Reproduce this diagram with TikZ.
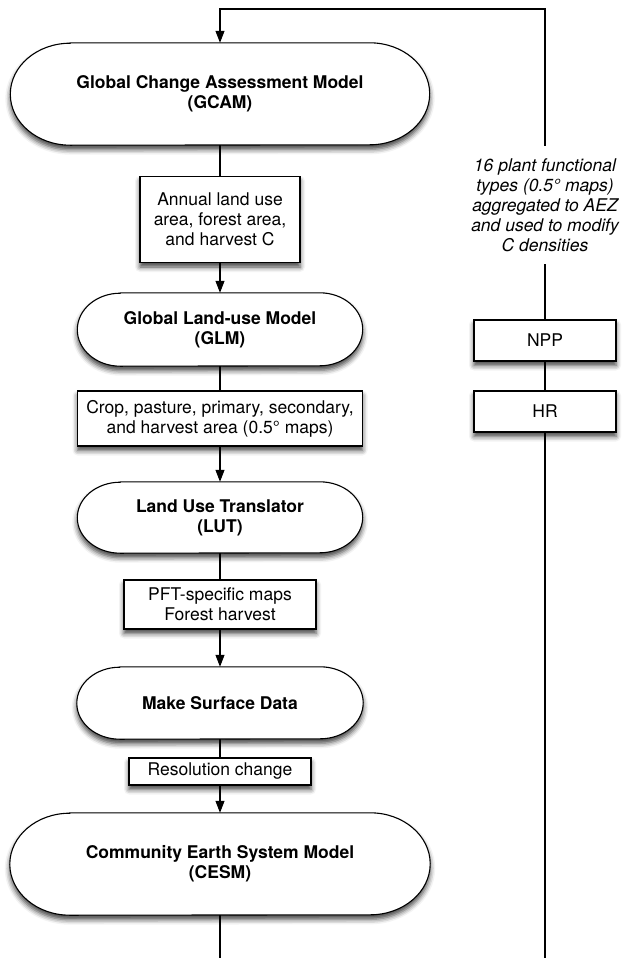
\documentclass[tikz,border=0pt]{standalone}
\usepackage{fontspec}
\setmainfont{TeX Gyre Heros}
\usetikzlibrary{arrows.meta,calc,backgrounds,shadows.blur}
\newcommand\pillpath[3]{%
  \path[pillshape] ($(#1.north west)+(#2,0)$) -- ($(#1.north east)+(-#2,0)$)
    arc[start angle=90,end angle=-90,x radius=#2bp,y radius=#3bp]
    -- ($(#1.south west)+(#2,0)$)
    arc[start angle=270,end angle=90,x radius=#2bp,y radius=#3bp] -- cycle;}
\begin{document}
\begin{tikzpicture}[x=1bp,y=1bp,
  every node/.style={font=\fontsize{17.5bp}{20bp}\selectfont, inner sep=0pt, align=center},
  shadowed/.style={blur shadow={shadow xshift=0bp, shadow yshift=-4.5bp, shadow blur radius=5bp, shadow opacity=75}},
  databox/.style={draw, fill=white, line width=1.1bp, shadowed},
  pilltext/.style={font=\fontsize{17.5bp}{20bp}\selectfont\bfseries},
  pillshape/.style={draw, fill=white, line width=1.1bp, shadowed},
  conn/.style={line width=1.1bp},
  arr/.style={conn, -{Triangle[length=12bp,width=9bp]}},
]
\useasboundingbox (0,0) rectangle (622,-958);

% left column
\node[pilltext, minimum width=419bp, minimum height=102bp] (gcam) at (220,-94) {Global Change Assessment Model\\(GCAM)};
\node[databox, minimum width=160bp, minimum height=86bp] (annual) at (220,-219.5) {Annual land use\\area, forest area,\\and harvest C};
\node[pilltext, minimum width=285bp, minimum height=73bp] (glm) at (220,-329.5) {Global Land-use Model\\(GLM)};
\node[databox, minimum width=285bp, minimum height=55bp] (crop) at (220,-418.5) {Crop, pasture, primary, secondary,\\and harvest area (0.5° maps)};
\node[pilltext, minimum width=285bp, minimum height=71bp] (lut) at (220,-517.5) {Land Use Translator\\(LUT)};
\node[databox, minimum width=192bp, minimum height=49bp] (pft) at (220,-604.5) {PFT-specific maps\\Forest harvest};
\node[pilltext, minimum width=286bp, minimum height=72bp] (msd) at (220,-703) {Make Surface Data};
\node[databox, minimum width=182bp, minimum height=27bp] (res) at (220,-771.5) {Resolution change};
\node[pilltext, minimum width=420bp, minimum height=102bp] (cesm) at (220,-864) {Community Earth System Model\\(CESM)};

% right column
\node[font=\fontsize{17.5bp}{20bp}\selectfont\itshape, minimum height=118bp] (pfts) at (545,-205) {16 plant functional\\types (0.5° maps)\\aggregated to AEZ\\and used to modify\\C densities};
\node[databox, minimum width=142bp, minimum height=41bp] (npp) at (545,-340.5) {NPP};
\node[databox, minimum width=142bp, minimum height=41bp] (hr) at (545,-411.5) {HR};

\coordinate (top) at (545,-9);
\coordinate (lbot) at (220,-958);
\coordinate (rbot) at (545,-958);

\begin{scope}[on background layer]
  \pillpath{gcam}{60}{51}
  \pillpath{glm}{43}{36.5}
  \pillpath{lut}{43}{35.5}
  \pillpath{msd}{43}{36}
  \pillpath{cesm}{60}{51}
\end{scope}

\draw[arr] (pfts.north) -- (top) -| (gcam.north);
\draw[conn] (pfts.south) -- (npp.north);
\draw[conn] (npp.south) -- (hr.north);
\draw[conn] (hr.south) -- (rbot);

\draw[conn] (gcam.south) -- (annual.north);
\draw[arr] (annual.south) -- (glm.north);
\draw[conn] (glm.south) -- (crop.north);
\draw[arr] (crop.south) -- (lut.north);
\draw[conn] (lut.south) -- (pft.north);
\draw[arr] (pft.south) -- (msd.north);
\draw[conn] (msd.south) -- (res.north);
\draw[arr] (res.south) -- (cesm.north);
\draw[conn] (cesm.south) -- (lbot);
\end{tikzpicture}
\end{document}
